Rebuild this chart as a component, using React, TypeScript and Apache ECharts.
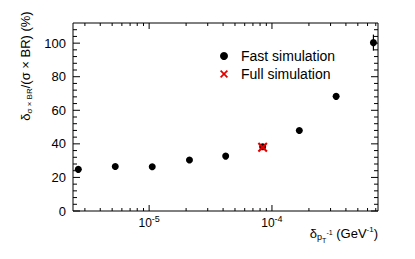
import React, { useEffect, useRef } from 'react';
import * as echarts from 'echarts';

// Data
const xValues = [2.65e-6, 5.3e-6, 1.06e-5, 2.13e-5, 4.2e-5, 8.4e-5, 1.67e-4, 3.33e-4, 6.7e-4];
const fastValues = [24.8, 26.5, 26.4, 30.4, 32.7, 38.3, 48.0, 68.3, 100.3];
const fastErrors = [0.4, 0.4, 0.4, 0.5, 0.6, 0.7, 0.9, 1.6, 4.8];
const fullX = [8.4e-5];
const fullValues = [38.0];

// Axis ranges and tick positions
const X_MIN = 2.4e-6;
const X_MAX = 7.3e-4;
const Y_MIN = 0;
const Y_MAX = 112;
const xMajorTicks = [1e-5, 1e-4];
const xMinorTicks = [3e-6, 4e-6, 5e-6, 6e-6, 7e-6, 8e-6, 9e-6, 2e-5, 3e-5, 4e-5, 5e-5, 6e-5, 7e-5, 8e-5, 9e-5, 2e-4, 3e-4, 4e-4, 5e-4, 6e-4, 7e-4];
const yMajorTicks = [0, 20, 40, 60, 80, 100];
const yMinorTicks = [4, 8, 12, 16, 24, 28, 32, 36, 44, 48, 52, 56, 64, 68, 72, 76, 84, 88, 92, 96, 104, 108];

const FONT = 'Liberation Sans, Arial, Helvetica, sans-serif';
const X_SYMBOL = 'path://M0,1.5L1.5,0L5,3.5L8.5,0L10,1.5L6.5,5L10,8.5L8.5,10L5,6.5L1.5,10L0,8.5L3.5,5Z';

export default function App() {
  const ref = useRef<HTMLDivElement>(null);
  useEffect(() => {
    if (!ref.current) return;
    const chart = echarts.init(ref.current, undefined, { renderer: 'svg' });
    const xTickData = [...xMajorTicks.map(v => [v, 1]), ...xMinorTicks.map(v => [v, 0])];
    const yTickData = [...yMajorTicks.map(v => [X_MIN, v, 1]), ...yMinorTicks.map(v => [X_MIN, v, 0])];
    const errData = xValues.map((x, i) => [x, fastValues[i], fastErrors[i]]);
    const lineStyle = { stroke: '#000', lineWidth: 1 };
    chart.setOption({
      animation: false,
      grid: { left: 73, right: 37, top: 23, bottom: 48, show: true, borderColor: '#000', borderWidth: 1, backgroundColor: 'transparent' },
      legend: {
        orient: 'vertical', left: 215, top: 43, itemWidth: 8, itemHeight: 8, itemGap: 2,
        textStyle: { fontSize: 14, fontFamily: FONT, color: '#000', lineHeight: 16, padding: [0, 0, 0, 8] },
        data: ['Fast simulation', 'Full simulation'],
      },
      xAxis: {
        type: 'log', logBase: 10, min: X_MIN, max: X_MAX,
        axisLine: { show: false }, axisTick: { show: false }, splitLine: { show: false },
        axisLabel: {
          margin: 2, showMinLabel: false, showMaxLabel: false,
          formatter: (v: number) => {
            const e = Math.log10(v);
            if (Math.abs(e - Math.round(e)) > 1e-6) return '';
            return '{b|10}{s|' + Math.round(e) + '}';
          },
          rich: {
            b: { fontSize: 12, fontFamily: FONT, color: '#000', lineHeight: 20 },
            s: { fontSize: 9, fontFamily: FONT, color: '#000', lineHeight: 10, padding: [0, 0, 9, 0] },
          },
        },
      },
      yAxis: {
        type: 'value', min: Y_MIN, max: Y_MAX, interval: 20,
        axisLine: { show: false }, axisTick: { show: false }, splitLine: { show: false },
        axisLabel: { margin: 7, fontSize: 13, fontFamily: FONT, color: '#000', showMaxLabel: false },
      },
      graphic: [
        {
          type: 'text', x: 25, y: 66, rotation: Math.PI / 2,
          style: {
            text: '{m|δ}{s|σ × BR}{m|/(σ × BR) (%)}',
            align: 'center', verticalAlign: 'middle',
            rich: {
              m: { fontSize: 13, fontFamily: FONT, fill: '#000', color: '#000' },
              s: { fontSize: 8, fontFamily: FONT, fill: '#000', color: '#000', padding: [8, 0, 0, 0] },
            },
          },
        },
        {
          type: 'text', x: 378, y: 233,
          style: {
            text: '{m|δ}{s|p}{t|T}{u|-1}{m| (GeV}{v|-1}{m|)}',
            align: 'right', verticalAlign: 'middle',
            rich: {
              m: { fontSize: 13, fontFamily: FONT, color: '#000' },
              s: { fontSize: 9, fontFamily: FONT, color: '#000', padding: [7, 0, 0, 0] },
              t: { fontSize: 7, fontFamily: FONT, color: '#000', padding: [14, 0, 0, 0] },
              u: { fontSize: 7, fontFamily: FONT, color: '#000', padding: [0, 0, 1, 0] },
              v: { fontSize: 8, fontFamily: FONT, color: '#000', padding: [0, 0, 8, 0] },
            },
          },
        },
      ],
      series: [
        {
          type: 'custom', name: 'xticks', silent: true, data: xTickData, z: 1,
          renderItem: (_p: any, api: any) => {
            const x = api.value(0);
            const len = api.value(1) ? 6 : 3;
            const b = api.coord([x, Y_MIN]);
            const t = api.coord([x, Y_MAX]);
            return {
              type: 'group', children: [
                { type: 'line', shape: { x1: b[0], y1: b[1], x2: b[0], y2: b[1] - len }, style: lineStyle },
                { type: 'line', shape: { x1: t[0], y1: t[1], x2: t[0], y2: t[1] + len }, style: lineStyle },
              ],
            };
          },
        },
        {
          type: 'custom', name: 'yticks', silent: true, data: yTickData, z: 1,
          renderItem: (_p: any, api: any) => {
            const y = api.value(1);
            const len = api.value(2) ? 7 : 4;
            const l = api.coord([X_MIN, y]);
            const r = api.coord([X_MAX, y]);
            return {
              type: 'group', children: [
                { type: 'line', shape: { x1: l[0], y1: l[1], x2: l[0] + len, y2: l[1] }, style: lineStyle },
                { type: 'line', shape: { x1: r[0], y1: r[1], x2: r[0] - len, y2: r[1] }, style: lineStyle },
              ],
            };
          },
        },
        {
          type: 'custom', name: 'errors', silent: true, data: errData, z: 2,
          renderItem: (_p: any, api: any) => {
            const x = api.value(0), y = api.value(1), e = api.value(2);
            const lo = api.coord([x, y - e]);
            const hi = api.coord([x, y + e]);
            return { type: 'line', shape: { x1: lo[0], y1: lo[1], x2: hi[0], y2: hi[1] }, style: { stroke: '#000', lineWidth: 1.2 } };
          },
        },
        {
          type: 'scatter', name: 'Fast simulation', symbol: 'circle', symbolSize: 7, z: 3,
          itemStyle: { color: '#000', opacity: 1 },
          data: xValues.map((x, i) => [x, fastValues[i]]),
        },
        {
          type: 'scatter', name: 'Full simulation', symbol: X_SYMBOL, symbolSize: 10, z: 4,
          itemStyle: { color: '#e00000', opacity: 1 },
          data: fullX.map((x, i) => [x, fullValues[i]]),
        },
      ],
    });
    return () => chart.dispose();
  }, []);
  return <div ref={ref} style={{ position: 'absolute', left: 0, top: 0, width: 415, height: 259 }} />;
}
